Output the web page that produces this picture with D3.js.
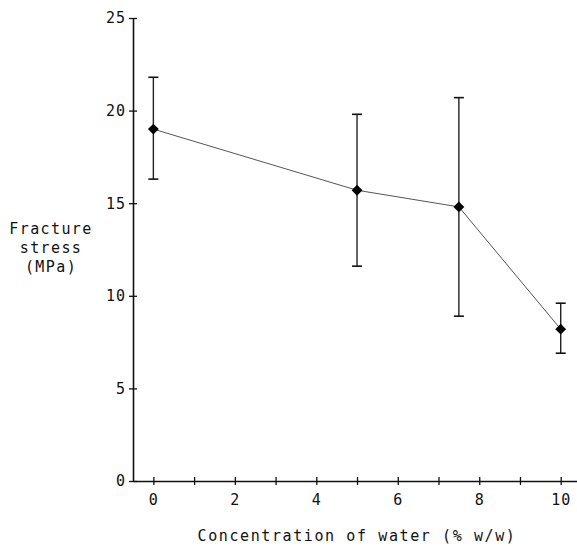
<!DOCTYPE html>
<html>
<head>
<meta charset="utf-8">
<script src="https://cdn.jsdelivr.net/npm/d3@7"></script>
<style>
    body { margin: 0; background: #fff; }
    text { font-family: "DejaVu Sans Mono", monospace; fill: #111; }
</style>
</head>
<body>
<div class="chart"></div>
<script>

// data
const water = [0, 5, 7.5, 10];
const stress = [19.0, 15.7, 14.8, 8.2];
const errLow = [16.3, 11.6, 8.9, 6.9];
const errHigh = [21.8, 19.8, 20.7, 9.6];

const xTicks = [0, 1, 2, 3, 4, 5, 6, 7, 8, 9, 10];
const yTicks = [0, 5, 10, 15, 20, 25];
const yLabelLines = ["Fracture", "stress", "(MPa)"];
const xTitle = "Concentration of water (% w/w)";


function ErrorChart(container) {

    // svg is the whole window, the axes sit at fixed offsets
    const width = 577, height = 546;
    const margin = { top: 18, right: 0, bottom: 65, left: 133 };

    const svg = d3.select(container)
        .append("svg")
        .attr("width", width)
        .attr("height", height);

    let xScale = d3.scaleLinear()
        .domain([-0.5, 10.4])
        .range([margin.left, width - margin.right]);
    let yScale = d3.scaleLinear()
        .domain([0, 25])
        .range([height - margin.bottom, margin.top]);

    function update() {
        const points = water.map((w, i) => ({
            x: w, y: stress[i], lo: errLow[i], hi: errHigh[i]
        }));

        // axes
        const xAxis = d3.axisBottom(xScale)
            .tickValues(xTicks)
            .tickFormat(d => d % 2 == 0 ? d : "")
            .tickSizeInner(4)
            .tickSizeOuter(0)
            .tickPadding(9);
        const gx = svg.append("g")
            .attr("class", "x-axis")
            .attr("transform", `translate(0, ${yScale(0)})`)
            .call(xAxis);

        const yAxis = d3.axisLeft(yScale)
            .tickValues(yTicks)
            .tickSizeInner(4)
            .tickSizeOuter(0)
            .tickPadding(3);
        const gy = svg.append("g")
            .attr("class", "y-axis")
            .attr("transform", `translate(${xScale(-0.5)}, 0)`)
            .call(yAxis);

        // ticks cross the axis line
        gx.selectAll(".tick line").attr("y1", -4);
        gy.selectAll(".tick line").attr("x1", 4);

        [gx, gy].forEach(g => {
            g.select(".domain").attr("stroke", "#111").attr("stroke-width", 1.6);
            g.selectAll(".tick line").attr("stroke", "#111").attr("stroke-width", 1.3);
            g.selectAll(".tick text")
                .attr("font-size", 15)
                .attr("font-family", "DejaVu Sans Mono, monospace")
                .attr("fill", "#111")
                .attr("letter-spacing", 1);
        });

        // connecting line
        const line = d3.line()
            .x(d => xScale(d.x))
            .y(d => yScale(d.y));
        svg.append("path")
            .datum(points)
            .attr("d", line)
            .attr("fill", "none")
            .attr("stroke", "#555")
            .attr("stroke-width", 1);

        // error bars
        const bars = svg.append("g").attr("class", "err");
        bars.selectAll(".stem")
            .data(points)
            .join("line")
            .attr("x1", d => xScale(d.x))
            .attr("x2", d => xScale(d.x))
            .attr("y1", d => yScale(d.lo))
            .attr("y2", d => yScale(d.hi))
            .attr("stroke", "#222")
            .attr("stroke-width", 1.4);
        ["lo", "hi"].forEach(key => {
            bars.selectAll(".cap-" + key)
                .data(points)
                .join("line")
                .attr("x1", d => xScale(d.x) - 5)
                .attr("x2", d => xScale(d.x) + 5)
                .attr("y1", d => yScale(d[key]))
                .attr("y2", d => yScale(d[key]))
                .attr("stroke", "#111")
                .attr("stroke-width", 1.6);
        });

        // diamond markers
        const diamond = d3.symbol().type(d3.symbolDiamond2).size(75);
        svg.append("g")
            .selectAll("path")
            .data(points)
            .join("path")
            .attr("d", diamond)
            .attr("transform", d => `translate(${xScale(d.x)}, ${yScale(d.y)})`)
            .attr("fill", "#000");

        // axis titles
        svg.append("text")
            .attr("x", 357)
            .attr("y", 541)
            .attr("text-anchor", "middle")
            .attr("font-size", 15)
            .attr("letter-spacing", 1.6)
            .text(xTitle);

        svg.append("g")
            .selectAll("text")
            .data(yLabelLines)
            .join("text")
            .attr("x", 51)
            .attr("y", (d, i) => 234 + i * 19)
            .attr("text-anchor", "middle")
            .attr("font-size", 15)
            .attr("letter-spacing", 1.4)
            .text(d => d);
    }

    return {
        update
    };
}

chart1 = ErrorChart(".chart");
chart1.update();
</script>
</body>
</html>
